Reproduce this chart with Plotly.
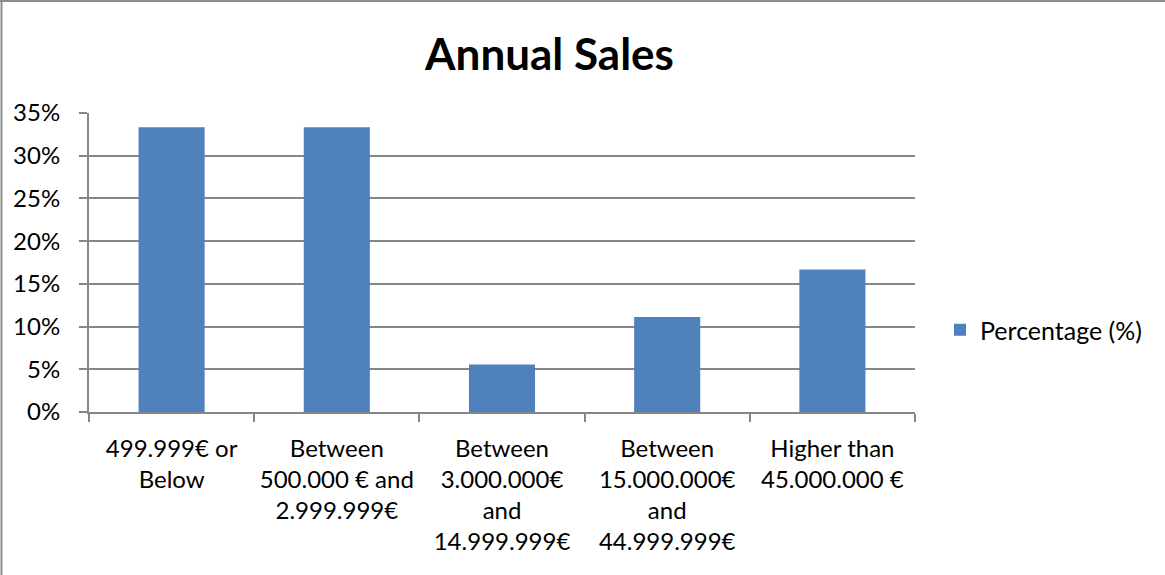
import plotly.graph_objects as go

# Survey results: share of companies per annual sales band
categories = [
    "499.999€ or<br>Below",
    "Between<br>500.000 € and<br>2.999.999€",
    "Between<br>3.000.000€<br>and<br>14.999.999€",
    "Between<br>15.000.000€<br>and<br>44.999.999€",
    "Higher than<br>45.000.000 €",
]
percentages = [0.3333, 0.3333, 0.0556, 0.1111, 0.1667]
series_name = "Percentage (%)"
y_ticks = [0, 0.05, 0.10, 0.15, 0.20, 0.25, 0.30, 0.35]

FONT = "Lato, Carlito, Calibri, sans-serif"
GRID = "#868686"

W, H = 1165, 575
L, R, T, B = 89, 250, 113, 163
PW, PH = W - L - R, H - T - B

fig = go.Figure(
    go.Bar(
        x=categories,
        y=percentages,
        name=series_name,
        marker=dict(color="#4F81BD", line=dict(width=0)),
        showlegend=True,
    )
)

fig.update_layout(
    width=W,
    height=H,
    margin=dict(l=L, r=R, t=T, b=B),
    paper_bgcolor="white",
    plot_bgcolor="white",
    bargap=0.6,
    font=dict(family=FONT, size=24, color="black"),
    title=dict(
        text="<b>Annual Sales</b>",
        x=0.4717,
        xanchor="center",
        y=1 - 55 / H,
        yanchor="middle",
        font=dict(family=FONT, size=44, color="black"),
    ),
    legend=dict(
        x=(940 - L) / PW,
        xanchor="left",
        y=0.5 - (330 - (T + PH / 2)) / PH,
        yanchor="middle",
        font=dict(family=FONT, size=25, color="black"),
        bgcolor="rgba(0,0,0,0)",
        itemwidth=30,
    ),
    showlegend=True,
)

fig.update_xaxes(
    type="category",
    showgrid=False,
    showline=True,
    linecolor=GRID,
    linewidth=2,
    ticks="outside",
    tickson="boundaries",
    ticklen=8,
    tickwidth=2,
    tickcolor=GRID,
    tickfont=dict(family=FONT, size=24, color="black"),
    ticklabelstandoff=14,
    tickangle=0,
)

fig.update_yaxes(
    range=[0, 0.35],
    tickvals=y_ticks,
    tickformat=".0%",
    showgrid=True,
    gridcolor=GRID,
    gridwidth=2,
    showline=True,
    linecolor=GRID,
    linewidth=2,
    ticks="outside",
    ticklen=8,
    tickwidth=2,
    tickcolor=GRID,
    tickfont=dict(family=FONT, size=24, color="black"),
    ticklabelstandoff=14,
    zeroline=False,
)

# Chart-area frame (left and top edges visible)
fig.add_shape(
    type="line", xref="paper", yref="paper",
    x0=(1.5 - L) / PW, x1=(1.5 - L) / PW,
    y0=1 + (T - 0) / PH, y1=-(B + 5) / PH,
    line=dict(color="#8C8C8C", width=2),
)
fig.add_shape(
    type="line", xref="paper", yref="paper",
    x0=(0 - L) / PW, x1=(W + 5 - L) / PW,
    y0=1 + (T - 1) / PH, y1=1 + (T - 1) / PH,
    line=dict(color="#8C8C8C", width=2),
)

fig.write_html("out.html")
